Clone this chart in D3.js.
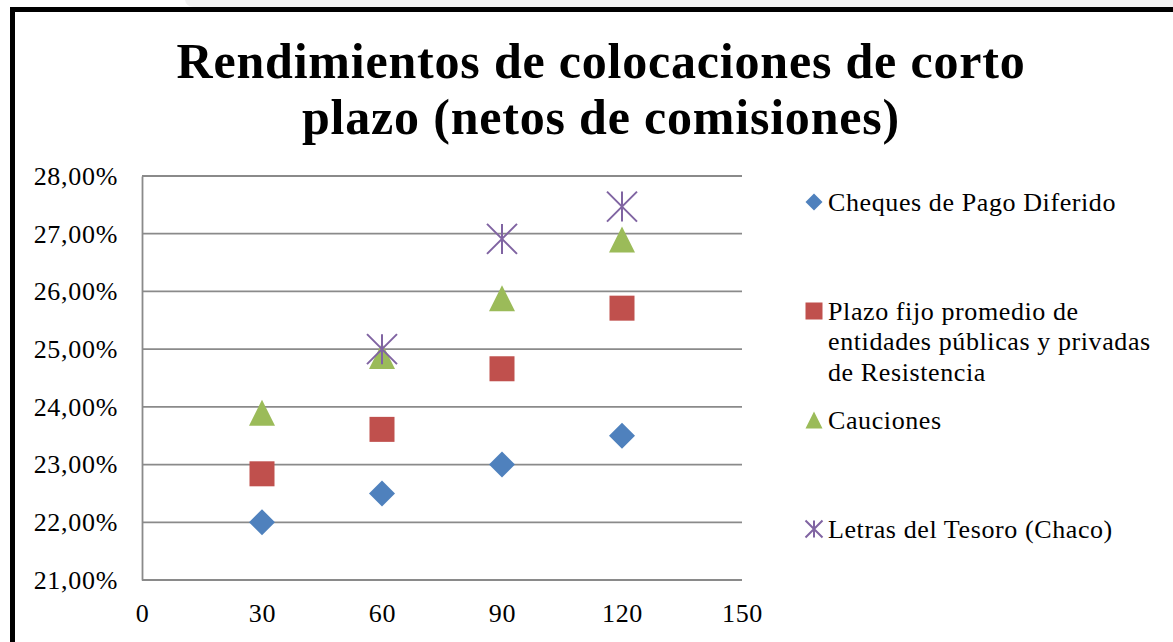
<!DOCTYPE html>
<html>
<head>
<meta charset="utf-8">
<script src="https://cdn.jsdelivr.net/npm/d3@7"></script>
<style>
  body { margin: 0; background: #ffffff; }
  svg { display: block; }
  .tick text { font-family: "Liberation Serif", serif; font-size: 26px; letter-spacing: 0.7px; fill: #000; }
</style>
</head>
<body>
<div id="chart"></div>
<script>
// Data
const days = [30, 60, 90, 120];
const seriesNames = [
  "Cheques de Pago Diferido",
  "Plazo fijo promedio de entidades públicas y privadas de Resistencia",
  "Cauciones",
  "Letras del Tesoro (Chaco)",
];
const legendLines = [
  ["Cheques de Pago Diferido"],
  ["Plazo fijo promedio de", "entidades públicas y privadas", "de Resistencia"],
  ["Cauciones"],
  ["Letras del Tesoro (Chaco)"],
];
const cheques = [22.0, 22.5, 23.0, 23.5];
const plazoFijo = [22.84, 23.61, 24.66, 25.71];
const cauciones = [23.9, 24.88, 25.88, 26.9];
const letras = [null, 25.0, 26.91, 27.47];
const xTicks = [0, 30, 60, 90, 120, 150];
const yTicks = [21, 22, 23, 24, 25, 26, 27, 28];
const titleLines = ["Rendimientos de colocaciones de corto", "plazo (netos de comisiones)"];

const colors = ["#4f81bd", "#c0504d", "#9bbb59", "#8064a2"];
const shapes = ["diamond", "square", "triangle", "star"];
const allSeries = [cheques, plazoFijo, cauciones, letras];

// Dimensions
let dimensions = {
  width: 1173,
  height: 642,
  margin: { top: 176, bottom: 62, left: 142, right: 431 },
};
dimensions.containerWidth = dimensions.width - dimensions.margin.left - dimensions.margin.right;
dimensions.containerHeight = dimensions.height - dimensions.margin.top - dimensions.margin.bottom;

const svg = d3.select("#chart")
  .append("svg")
  .attr("width", dimensions.width)
  .attr("height", dimensions.height);

// page strip + chart frame
svg.append("rect")
  .attr("x", 185).attr("y", -10).attr("width", 1100).attr("height", 17)
  .attr("rx", 8).attr("fill", "#f2f2f2");
svg.append("rect")
  .attr("x", 12.5).attr("y", 9.5)
  .attr("width", 1300).attr("height", 800)
  .attr("fill", "#fff").attr("stroke", "#000").attr("stroke-width", 5);

// Title
svg.append("text")
  .attr("x", 601)
  .attr("text-anchor", "middle")
  .style("font-family", "'Liberation Serif', serif")
  .style("font-weight", "bold")
  .style("font-size", "50px")
  .style("letter-spacing", "0.8px")
  .selectAll("tspan")
  .data(titleLines)
  .join("tspan")
  .attr("x", 601)
  .attr("y", (d, i) => 78 + i * 56)
  .text((d) => d);

const container = svg.append("g")
  .attr("transform", `translate(${dimensions.margin.left}, ${dimensions.margin.top})`);

// Scales
const xScale = d3.scaleLinear().domain([0, 150]).range([0, dimensions.containerWidth]);
const yScale = d3.scaleLinear().domain([21, 28]).range([dimensions.containerHeight, 0]);

const gridColor = "#8a8a8a";

// Gridlines
container.append("g")
  .selectAll("line")
  .data(yTicks)
  .join("line")
  .attr("x1", 0)
  .attr("x2", dimensions.containerWidth)
  .attr("y1", (d) => yScale(d))
  .attr("y2", (d) => yScale(d))
  .attr("stroke", gridColor)
  .attr("stroke-width", 1.8);

// Axes
const yAxis = d3.axisLeft(yScale)
  .tickValues(yTicks)
  .tickSize(0)
  .tickPadding(24)
  .tickFormat((d) => d3.format(".2f")(d).replace(".", ",") + "%");
container.append("g")
  .call(yAxis)
  .call((g) => g.select(".domain").attr("stroke", gridColor).attr("stroke-width", 1.8));

const xAxis = d3.axisBottom(xScale)
  .tickValues(xTicks)
  .tickSize(0)
  .tickPadding(24)
  .tickFormat(d3.format("d"));
container.append("g")
  .attr("transform", `translate(0, ${dimensions.containerHeight})`)
  .call(xAxis)
  .call((g) => g.select(".domain").remove());

// Markers
function marker(sel, shape, color, s) {
  const h = s / 2;
  if (shape === "diamond") {
    sel.append("path").attr("d", `M0,${-h}L${h},0L0,${h}L${-h},0Z`).attr("fill", color);
  } else if (shape === "square") {
    sel.append("rect").attr("x", -h).attr("y", -h).attr("width", s).attr("height", s).attr("fill", color);
  } else if (shape === "triangle") {
    sel.append("path").attr("d", `M0,${-h}L${h},${h}L${-h},${h}Z`).attr("fill", color);
  } else {
    sel.append("path")
      .attr("d", `M0,${-h}V${h}M${-h},${-h}L${h},${h}M${h},${-h}L${-h},${h}`)
      .attr("stroke", color)
      .attr("stroke-width", 2)
      .attr("fill", "none");
  }
}

const markerSizes = [26, 25, 26, 30];

allSeries.forEach((values, si) => {
  const pts = days.map((d, i) => ({ x: d, y: values[i] })).filter((p) => p.y != null);
  container.append("g")
    .selectAll("g")
    .data(pts)
    .join("g")
    .attr("transform", (p) => `translate(${xScale(p.x)}, ${yScale(p.y)})`)
    .each(function () {
      marker(d3.select(this), shapes[si], colors[si], markerSizes[si]);
    });
});

// Legend
const legend = svg.append("g").attr("transform", "translate(814, 202)");
const legendItems = legend.selectAll("g")
  .data(seriesNames)
  .join("g")
  .attr("transform", (d, i) => `translate(0, ${i * 109})`);

legendItems.each(function (d, i) {
  const g = d3.select(this);
  marker(g, shapes[i], colors[i], 17);
  g.append("text")
    .style("font-family", "'Liberation Serif', serif")
    .style("font-size", "26px")
    .style("letter-spacing", "0.6px")
    .selectAll("tspan")
    .data(legendLines[i])
    .join("tspan")
    .attr("x", 14)
    .attr("y", (t, j) => j * 30.5)
    .attr("dy", "0.33em")
    .text((t) => t);
});
</script>
</body>
</html>
